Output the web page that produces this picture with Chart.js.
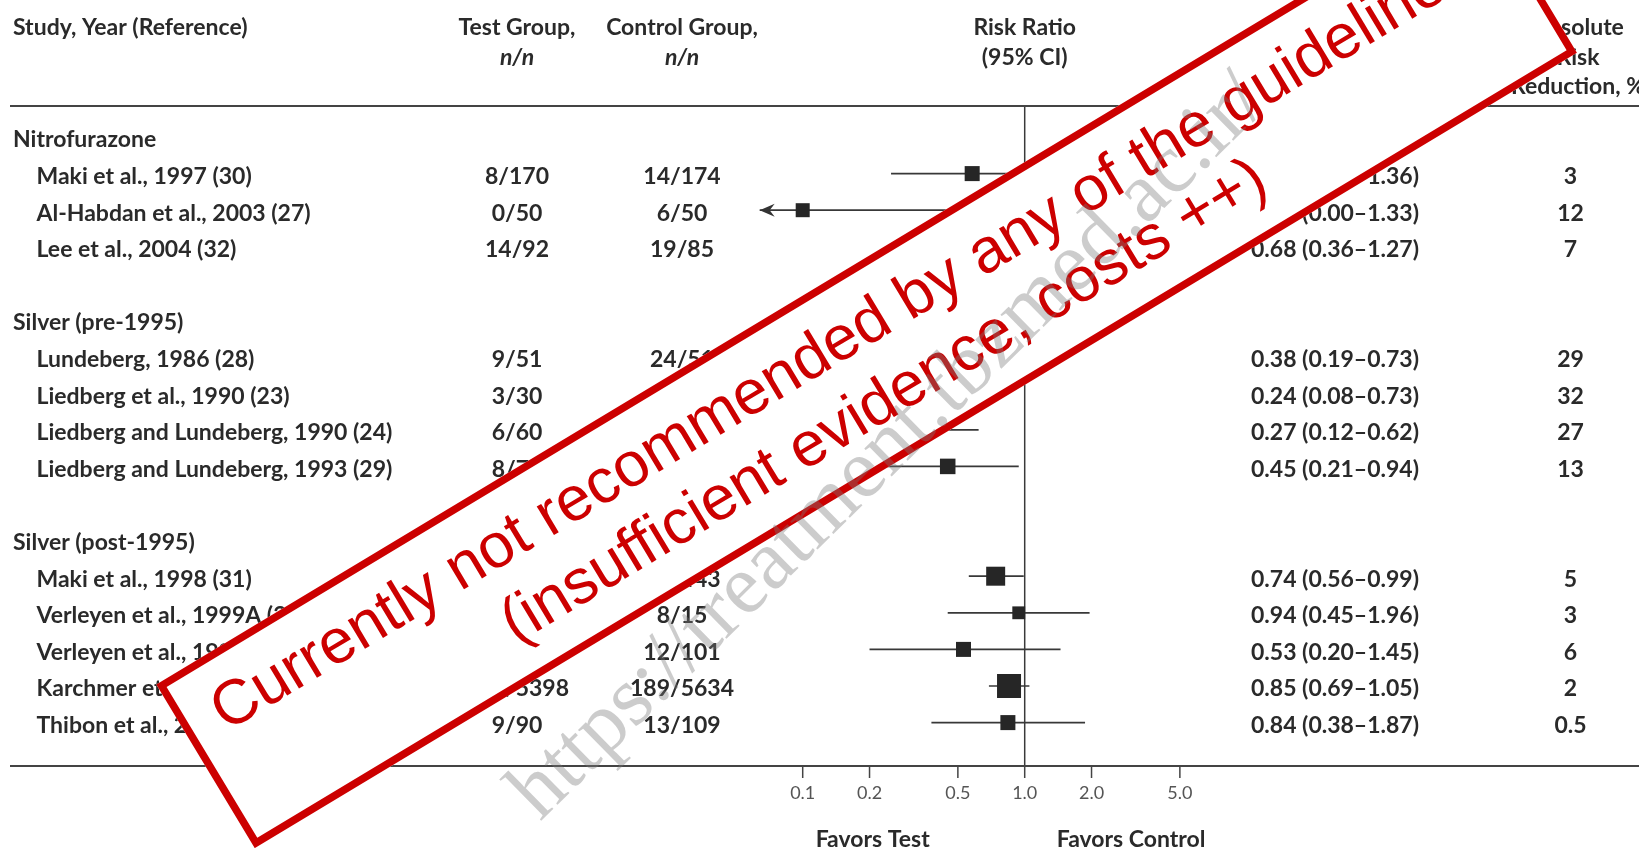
<!DOCTYPE html>
<html><head><meta charset="utf-8">
<script src="https://cdn.jsdelivr.net/npm/chart.js@4.4.1/dist/chart.umd.min.js"></script>
<style>html,body{margin:0;padding:0;background:#fff;overflow:hidden}#wrap{position:relative;width:1639px;height:848px}</style>
</head><body><div id="wrap"><canvas id="c" width="1639" height="848"></canvas></div>
<script>
// ---------------- data ----------------
const groups = ['Nitrofurazone', 'Silver (pre-1995)', 'Silver (post-1995)'];
const studies = [
  'Maki et al., 1997 (30)', 'Al-Habdan et al., 2003 (27)', 'Lee et al., 2004 (32)',
  'Lundeberg, 1986 (28)', 'Liedberg et al., 1990 (23)', 'Liedberg and Lundeberg, 1990 (24)', 'Liedberg and Lundeberg, 1993 (29)',
  'Maki et al., 1998 (31)', 'Verleyen et al., 1999A (25)', 'Verleyen et al., 1999B (25)', 'Karchmer et al., 2000 (26)', 'Thibon et al., 2000 (33)'
];
const studyGroup = [0, 0, 0, 1, 1, 1, 1, 2, 2, 2, 2, 2];
const testGroup = ['8/170', '0/50', '14/92', '9/51', '3/30', '6/60', '8/75', '61/407', '9/18', '5/79', '154/5398', '9/90'];
const controlGroup = ['14/174', '6/50', '19/85', '24/51', '13/31', '22/60', '18/76', '85/443', '8/15', '12/101', '189/5634', '13/109'];
const riskRatio = [0.58, 0.10, 0.68, 0.38, 0.24, 0.27, 0.45, 0.74, 0.94, 0.53, 0.85, 0.84];
const ciLower   = [0.25, 0.00, 0.36, 0.19, 0.08, 0.12, 0.21, 0.56, 0.45, 0.20, 0.69, 0.38];
const ciUpper   = [1.36, 1.33, 1.27, 0.73, 0.73, 0.62, 0.94, 0.99, 1.96, 1.45, 1.05, 1.87];
const absRiskReduction = ['3', '12', '7', '29', '32', '27', '13', '5', '3', '6', '2', '0.5'];
const studyWeight = [1.15, 1.0, 1.2, 1.2, 0.9, 1.0, 1.23, 1.84, 0.84, 1.15, 2.94, 1.15];
const xTicks = [0.1, 0.2, 0.5, 1.0, 2.0, 5.0];
const xTickLabels = ['0.1', '0.2', '0.5', '1.0', '2.0', '5.0'];
const arrowLimit = 0.064;
const nullValue = 1.0;
const headerStudy = ['Study, Year (Reference)'];
const headerTest = ['Test Group,', 'n/n'];
const headerControl = ['Control Group,', 'n/n'];
const headerRR = ['Risk Ratio', '(95% CI)'];
const headerARR = ['Absolute', 'Risk', 'Reduction, %'];
const favorsLeft = 'Favors Test';
const favorsRight = 'Favors Control';
const stampLine1 = 'Currently not recommended by any of the guidelines';
const stampLine2 = '(insufficient evidence, costs ++)';
const watermark = 'https://treatment.tbzmed.ac.ir/';

// ---------------- layout rows ----------------
const rowOf = [], groupRow = [];
(function () {
  let r = 0;
  groups.forEach((g, gi) => {
    groupRow.push(r); r++;
    studies.forEach((s, i) => { if (studyGroup[i] === gi) { rowOf[i] = r; r++; } });
    r++;
  });
})();
const topRuleRow = -0.847, bottomRuleRow = 17.186;
const headRows = [-3.06, -2.25, -1.47];
const tickLabelRow = 17.92, favorsRow = 19.12;
const textShift = 3;

const TXT = '#2a2a2a';
const fmt = v => v.toFixed(2);

// ---------------- datasets ----------------
const ciSets = studies.map((s, i) => ({
  type: 'scatter', showLine: true, order: 2,
  data: [{ x: Math.max(ciLower[i], arrowLimit), y: rowOf[i] }, { x: ciUpper[i], y: rowOf[i] }],
  borderColor: '#383838', borderWidth: 1.7, pointRadius: 0
}));
const nullLine = {
  type: 'scatter', showLine: true, order: 3,
  data: [{ x: nullValue, y: topRuleRow }, { x: nullValue, y: bottomRuleRow }],
  borderColor: '#3a3a3a', borderWidth: 1.5, pointRadius: 0
};
const markers = {
  type: 'scatter', order: 0,
  data: studies.map((s, i) => ({ x: riskRatio[i], y: rowOf[i] })),
  pointStyle: 'rect',
  pointRadius: studyWeight.map(w => 14 * Math.sqrt(w) / Math.SQRT2),
  backgroundColor: '#262626', borderColor: '#262626', borderWidth: 0
};

// ---------------- drawing plugin ----------------
const tablePlugin = {
  id: 'tablePlugin',
  afterDraw(chart) {
    const ctx = chart.ctx, xs = chart.scales.x, ys = chart.scales.y;
    const X = v => xs.getPixelForValue(v), Y = r => ys.getPixelForValue(r);
    const TY = r => Y(r) + textShift;
    ctx.save();
    ctx.font = 'bold 100px Lato';
    const w100 = ctx.measureText('Liedberg and Lundeberg, 1990 (24)').width;
    const fs = 100 * 356 / w100;
    const F = (it) => (it ? 'italic ' : '') + 'bold ' + fs.toFixed(2) + 'px Lato';
    ctx.fillStyle = TXT; ctx.textBaseline = 'middle';

    // rules
    ctx.strokeStyle = '#444'; ctx.lineWidth = 2;
    [topRuleRow, bottomRuleRow].forEach(r => {
      ctx.beginPath(); ctx.moveTo(10, Y(r)); ctx.lineTo(1639, Y(r)); ctx.stroke();
    });

    // headers
    ctx.font = F(false); ctx.textAlign = 'left';
    ctx.fillText(headerStudy[0], 13, TY(headRows[0]));
    const colTest = 517, colCtrl = 682, colRR = 1335, colARR = 1570.5;
    ctx.textAlign = 'center';
    [[headerTest, colTest], [headerControl, colCtrl], [headerRR, X(nullValue)], [headerARR, 1578]].forEach(([lines, cx]) => {
      lines.forEach((t, k) => {
        ctx.font = F(t === 'n/n');
        ctx.fillText(t, cx, TY(headRows[k]));
      });
    });

    // body
    ctx.font = F(false);
    groups.forEach((g, gi) => { ctx.textAlign = 'left'; ctx.fillText(g, 13, TY(groupRow[gi])); });
    studies.forEach((s, i) => {
      const y = TY(rowOf[i]);
      ctx.textAlign = 'left'; ctx.fillText(s, 36.5, y);
      ctx.textAlign = 'center';
      ctx.fillText(testGroup[i], colTest, y);
      ctx.fillText(controlGroup[i], colCtrl, y);
      ctx.fillText(fmt(riskRatio[i]) + ' (' + fmt(ciLower[i]) + '\u2013' + fmt(ciUpper[i]) + ')', colRR, y);
      ctx.fillText(absRiskReduction[i], colARR, y);
      if (ciLower[i] < arrowLimit) {
        const tx = X(arrowLimit), ay = Y(rowOf[i]);
        ctx.fillStyle = '#333';
        ctx.beginPath();
        ctx.moveTo(tx, ay); ctx.lineTo(tx + 15, ay - 6.5); ctx.lineTo(tx + 10, ay); ctx.lineTo(tx + 15, ay + 6.5);
        ctx.closePath(); ctx.fill();
        ctx.fillStyle = TXT;
      }
    });

    // ticks
    ctx.strokeStyle = '#444'; ctx.lineWidth = 1.5;
    ctx.font = '18px Lato'; ctx.fillStyle = '#555'; ctx.textAlign = 'center';
    xTicks.forEach((t, k) => {
      const px = X(t);
      ctx.beginPath(); ctx.moveTo(px, Y(bottomRuleRow)); ctx.lineTo(px, Y(bottomRuleRow) + 12); ctx.stroke();
      ctx.fillText(xTickLabels[k], px, Y(tickLabelRow));
    });
    ctx.font = F(false); ctx.fillStyle = TXT;
    ctx.textAlign = 'right'; ctx.fillText(favorsLeft, X(nullValue) - 95, TY(favorsRow));
    ctx.textAlign = 'left'; ctx.fillText(favorsRight, X(nullValue) + 32, TY(favorsRow));
    ctx.restore();

    // stamp
    ctx.save();
    ctx.translate(866.6, 368.6);
    ctx.rotate(-31.03 * Math.PI / 180);
    const sw = 1543, sh = 191;
    ctx.fillStyle = '#fff';
    ctx.fillRect(-sw / 2, -sh / 2, sw, sh);
    ctx.strokeStyle = '#cc0000'; ctx.lineWidth = 7.5;
    ctx.strokeRect(-sw / 2 + 3.75, -sh / 2 + 3.75, sw - 7.5, sh - 7.5);
    ctx.fillStyle = '#cc0000';
    ctx.font = '63px "Liberation Sans", Arial, sans-serif';
    ctx.textAlign = 'center'; ctx.textBaseline = 'alphabetic';
    ctx.fillText(stampLine1, -6, -18.5);
    ctx.fillText(stampLine2, -2, 55.5);
    ctx.restore();

    // watermark
    ctx.save();
    ctx.translate(540, 822);
    ctx.rotate(-44.5 * Math.PI / 180);
    ctx.font = '85px "Liberation Serif", "Times New Roman", serif';
    ctx.fillStyle = 'rgba(120,120,120,0.38)';
    ctx.textAlign = 'left'; ctx.textBaseline = 'alphabetic';
    ctx.fillText(watermark, 0, 0);
    ctx.restore();
  }
};

// ---------------- chart ----------------
const pxPerDecade = 222, nullPx = 1024.7, W = 1639, H = 848, row0 = 137, rowH = 36.6;
const lmin = -nullPx / pxPerDecade;
new Chart(document.getElementById('c'), {
  data: { datasets: [markers, ...ciSets, nullLine] },
  options: {
    responsive: false, animation: false, devicePixelRatio: 1,
    layout: { padding: 0, autoPadding: false },
    plugins: { legend: { display: false }, tooltip: { enabled: false }, title: { display: false } },
    scales: {
      x: { type: 'logarithmic', display: false, min: Math.pow(10, lmin), max: Math.pow(10, lmin + W / pxPerDecade) },
      y: { type: 'linear', display: false, reverse: true, min: -row0 / rowH, max: -row0 / rowH + H / rowH }
    }
  },
  plugins: [tablePlugin]
});
</script></body></html>
